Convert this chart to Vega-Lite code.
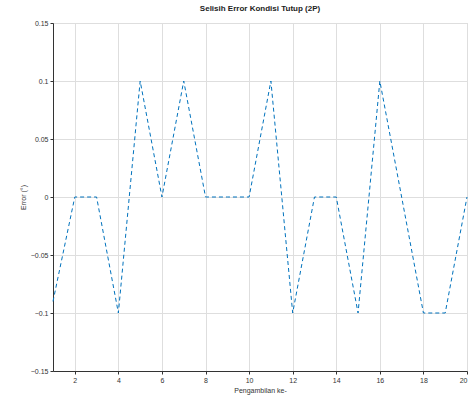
{
  "$schema": "https://vega.github.io/schema/vega-lite/v6.json",
  "autosize": {"type": "none"},
  "padding": {"left": 53, "top": 23, "right": 8, "bottom": 27},
  "width": 414,
  "height": 348,
  "background": "white",
  "config": {
    "view": {"stroke": "#cfcfcf"},
    "font": "Liberation Sans"
  },
  "title": {"text": "Selisih Error Kondisi Tutup (2P)", "fontSize": 8, "fontWeight": "bold", "offset": 6, "color": "#222"},
  "data": {
    "values": [
      {"x": 1, "y": -0.09},
      {"x": 2, "y": 0},
      {"x": 3, "y": 0},
      {"x": 4, "y": -0.1},
      {"x": 5, "y": 0.1},
      {"x": 6, "y": 0},
      {"x": 7, "y": 0.1},
      {"x": 8, "y": 0},
      {"x": 9, "y": 0},
      {"x": 10, "y": 0},
      {"x": 11, "y": 0.1},
      {"x": 12, "y": -0.1},
      {"x": 13, "y": 0},
      {"x": 14, "y": 0},
      {"x": 15, "y": -0.1},
      {"x": 16, "y": 0.1},
      {"x": 17, "y": 0},
      {"x": 18, "y": -0.1},
      {"x": 19, "y": -0.1},
      {"x": 20, "y": 0}
    ]
  },
  "mark": {"type": "line", "color": "#0072BD", "strokeWidth": 1, "strokeDash": [4, 3]},
  "encoding": {
    "x": {
      "field": "x", "type": "quantitative",
      "scale": {"domain": [1, 20], "nice": false, "zero": false},
      "axis": {
        "title": "Pengambilan ke-", "titleFontSize": 7, "titleFontWeight": "normal", "titlePadding": 3,
        "values": [2, 4, 6, 8, 10, 12, 14, 16, 18, 20],
        "labelFontSize": 7, "tickSize": 3, "domainColor": "#333", "tickColor": "#333",
        "gridColor": "#dedede", "labelColor": "#333", "titleColor": "#333"
      }
    },
    "y": {
      "field": "y", "type": "quantitative",
      "scale": {"domain": [-0.15, 0.15], "nice": false},
      "axis": {
        "title": "Error (°)", "titleFontSize": 7, "titleFontWeight": "normal", "titlePadding": 4,
        "values": [-0.15, -0.1, -0.05, 0, 0.05, 0.1, 0.15], "format": ".2~f",
        "labelFontSize": 7, "tickSize": 3, "domainColor": "#333", "tickColor": "#333",
        "gridColor": "#dedede", "labelColor": "#333", "titleColor": "#333"
      }
    }
  }
}
